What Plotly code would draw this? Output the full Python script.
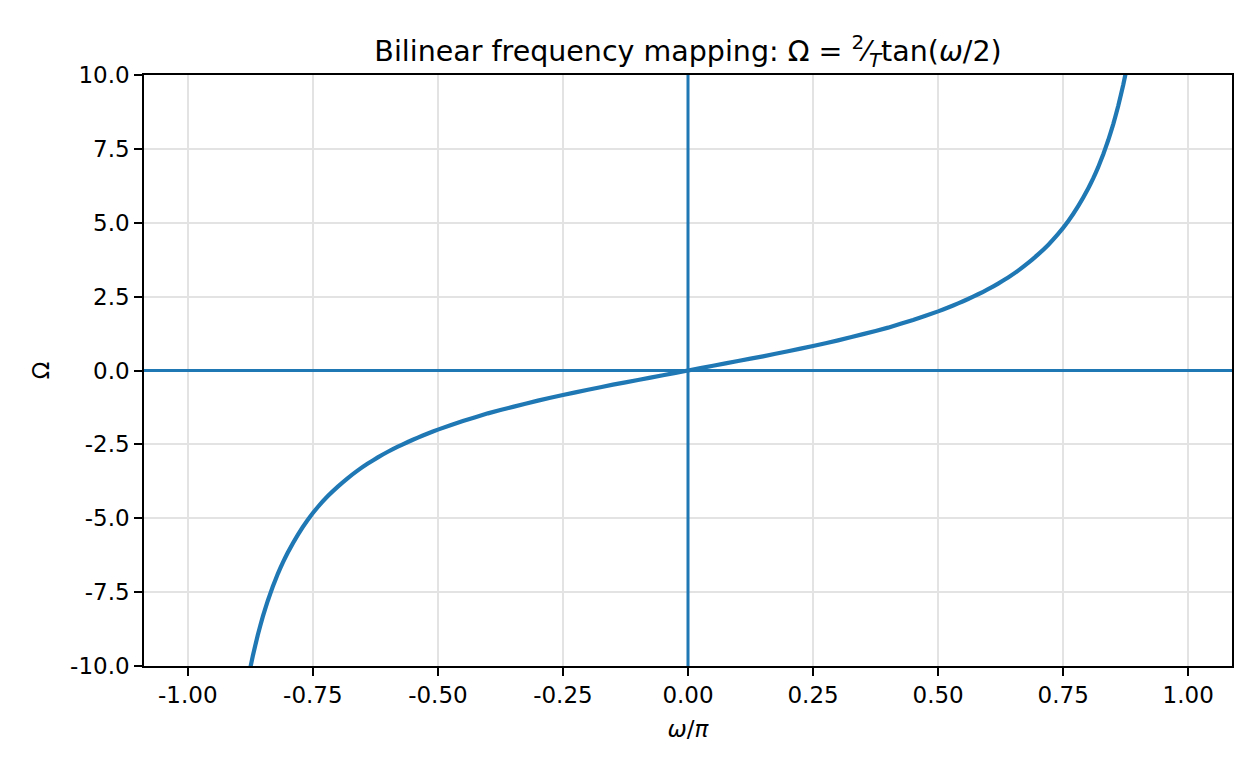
import plotly.graph_objects as go

# omega/pi values and the mapped analogue frequency Omega
omega_pos = [0.00, 0.05, 0.10, 0.15, 0.20, 0.25, 0.30, 0.35, 0.40, 0.45, 0.50,
             0.52, 0.54, 0.56, 0.58, 0.60, 0.62, 0.64, 0.66, 0.68, 0.70,
             0.72, 0.74, 0.76, 0.78, 0.80, 0.81, 0.82, 0.83, 0.84, 0.85,
             0.86, 0.87, 0.88, 0.90]
Omega_pos = [0.00, 0.16, 0.32, 0.48, 0.65, 0.83, 1.02, 1.23, 1.45, 1.71, 2.00,
             2.13, 2.27, 2.42, 2.58, 2.75, 2.94, 3.15, 3.38, 3.64, 3.93,
             4.25, 4.62, 5.05, 5.56, 6.16, 6.50, 6.88, 7.31, 7.79, 8.33,
             8.95, 9.66, 10.48, 12.63]
# the curve is odd-symmetric about the origin
omega_over_pi = [-v for v in omega_pos[::-1]] + omega_pos[1:]
Omega = [-v for v in Omega_pos[::-1]] + Omega_pos[1:]

x_tickvals = [-1.0, -0.75, -0.5, -0.25, 0.0, 0.25, 0.5, 0.75, 1.0]
x_ticktext = ["-1.00", "-0.75", "-0.50", "-0.25", "0.00", "0.25", "0.50", "0.75", "1.00"]
y_tickvals = [-10.0, -7.5, -5.0, -2.5, 0.0, 2.5, 5.0, 7.5, 10.0]
y_ticktext = ["-10.0", "-7.5", "-5.0", "-2.5", "0.0", "2.5", "5.0", "7.5", "10.0"]

BLUE = "#1f77b4"
FONT = "DejaVu Sans"

fig = go.Figure()
fig.add_trace(go.Scatter(x=omega_over_pi, y=Omega, mode="lines",
                         line=dict(color=BLUE, width=4.2, shape="spline", smoothing=0.3),
                         showlegend=False, hoverinfo="skip"))
fig.add_hline(y=0, line=dict(color=BLUE, width=3), layer="above")
fig.add_vline(x=0, line=dict(color=BLUE, width=3), layer="above")

axis_common = dict(
    showline=True, linecolor="black", linewidth=1.6, mirror=True,
    ticks="outside", ticklen=8, tickwidth=1.6, tickcolor="black",
    showgrid=True, gridcolor="#e3e3e3", gridwidth=1.6,
    zeroline=False, tickfont=dict(family=FONT, size=23, color="black"),
)

fig.update_layout(
    width=1260, height=774,
    margin=dict(l=144, r=28, t=75, b=108),
    paper_bgcolor="white", plot_bgcolor="white",
    font=dict(family=FONT, color="black"),
    title=dict(text="Bilinear frequency mapping: Ω = <sup>2</sup>⁄<sub><i>T</i></sub>tan(<i>ω</i>/2)",
               x=0.5, xref="paper", xanchor="center",
               y=1 - 51 / 774, yref="container", yanchor="middle",
               font=dict(family=FONT, size=28.5, color="black")),
    xaxis=dict(range=[-1.0875, 1.0875], tickvals=x_tickvals, ticktext=x_ticktext,
               title=dict(text="<i>ω</i>/<i>π</i>", font=dict(family=FONT, size=23), standoff=13),
               **axis_common),
    yaxis=dict(range=[-10, 10], tickvals=y_tickvals, ticktext=y_ticktext,
               title=dict(text="Ω", font=dict(family=FONT, size=23), standoff=14),
               **axis_common),
)

fig.write_html("out.html")
